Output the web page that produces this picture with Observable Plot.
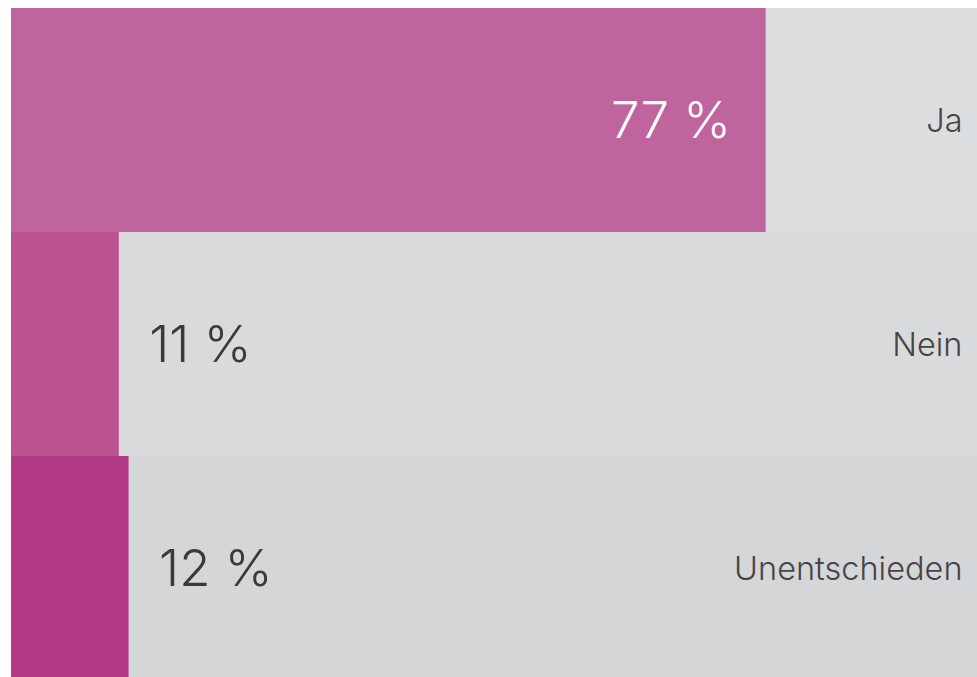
<!DOCTYPE html>
<html>
<head>
<meta charset="utf-8">
<script src="https://cdn.jsdelivr.net/npm/d3@7"></script>
<script src="https://cdn.jsdelivr.net/npm/@observablehq/plot@0.6"></script>
<style>
  html, body { margin: 0; padding: 0; background: #fff; overflow: hidden; }
  #chart svg { overflow: hidden; display: block; }
</style>
</head>
<body>
<div id="chart"></div>
<script>
// Data
const categories = ["Ja", "Nein", "Unentschieden"];
const values = [77, 11, 12];
const valueLabels = ["77 %", "11 %", "12 %"];

// Styles
const barColors = {"Ja": "#c0649e", "Nein": "#ba528f", "Unentschieden": "#b33a87"};
const trackColors = {"Ja": "#dcdddf", "Nein": "#d9dadc", "Unentschieden": "#d5d6d8"};

const rows = categories.map((c, i) => ({category: c, value: values[i], label: valueLabels[i]}));
const font = "Inter, 'Noto Sans', sans-serif";

const plot = Plot.plot({
  width: 977,
  height: 677,
  marginTop: 7,
  marginBottom: 0,
  marginLeft: 11,
  marginRight: 0,
  style: {background: "#ffffff", fontFamily: font},
  x: {domain: [0, 100], range: [11, 991], axis: null},
  y: {domain: categories, range: [7, 680], padding: 0, axis: null},
  marks: [
    Plot.barX(rows, {y: "category", x1: 0, x2: 100, fill: d => trackColors[d.category], inset: 0}),
    Plot.barX(rows, {y: "category", x1: 0, x2: "value", fill: d => barColors[d.category], inset: 0}),
    Plot.text(rows.filter(d => d.value > 50), {
      y: "category", x: "value", text: "label", textAnchor: "end", dx: -35, dy: 1,
      fill: "#ffffff", fontSize: 51, fontWeight: 300, fontFamily: font
    }),
    Plot.text(rows.filter(d => d.value <= 50), {
      y: "category", x: "value", text: "label", textAnchor: "start", dx: 30, dy: 1,
      fill: "#3a3a3a", fontSize: 51, fontWeight: 300, fontFamily: font
    }),
    Plot.text(rows, {
      y: "category", frameAnchor: "right", text: "category", textAnchor: "end", dx: -15, dy: 1,
      fill: "#454545", fontSize: 32.5, fontWeight: 300, fontFamily: font
    })
  ]
});
document.getElementById("chart").appendChild(plot);
</script>
</body>
</html>
